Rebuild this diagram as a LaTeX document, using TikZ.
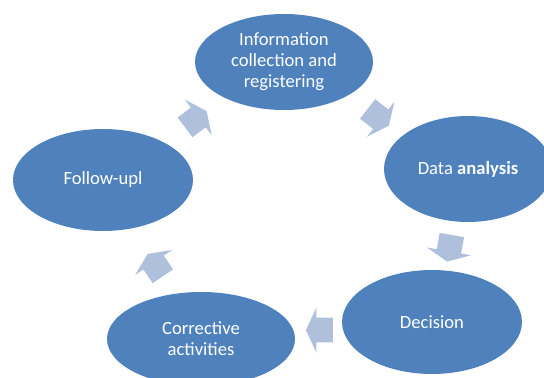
\documentclass[tikz,border=0pt]{standalone}
\usepackage{fontspec}
\setmainfont{Carlito}
\usetikzlibrary{positioning, shapes, calc}
\definecolor{stageblue}{HTML}{4F81BD}
\definecolor{arrowblue}{HTML}{AFC0DD}
\tikzset{stage/.style={ellipse, fill=stageblue, text=white, align=center, inner sep=0pt}}

\begin{document}
\begin{tikzpicture}[
		x=0.02cm, y=-0.02cm,
		stage/.append style={font=\fontsize{10.6}{12}\selectfont},
		blockarrow/.style={single arrow, fill=arrowblue, minimum height=0.54cm, inner xsep=0pt, inner ysep=0.24cm, single arrow head extend=0.2cm, single arrow tip angle=130}
		]
		\useasboundingbox (0,0) rectangle (544,378);
		
		% the five stages of the cycle
		\node[stage, minimum width=3.56cm, minimum height=1.92cm] (info) at (284,62) {Information\\collection and\\registering};
		\node[stage, minimum width=3.36cm, minimum height=2.12cm] (data) at (468,169) {Data \textbf{analysis}};
		\node[stage, minimum width=3.6cm, minimum height=2.08cm] (decision) at (432,322) {Decision};
		\node[stage, minimum width=3.76cm, minimum height=1.88cm] (corrective) at (201,339) {Corrective\\activities};
		\node[stage, minimum width=3.6cm, minimum height=2.04cm] (follow) at (103,180) {Follow-upl};
		
		% block arrows between the stages
		\node[blockarrow, rotate=37] (a1) at ($(follow)!0.5!(info)$) {};
		\node[blockarrow, rotate=-38] (a2) at ($(info)!0.5!(data)$) {};
		\node[blockarrow, rotate=-100] (a3) at ($(data)!0.5!(decision)$) {};
		\node[blockarrow, rotate=180] (a4) at ($(decision)!0.475!(corrective)$) {};
		\node[blockarrow, rotate=124] (a5) at ($(corrective)!0.45!(follow)$) {};
		
	\end{tikzpicture}
\end{document}
